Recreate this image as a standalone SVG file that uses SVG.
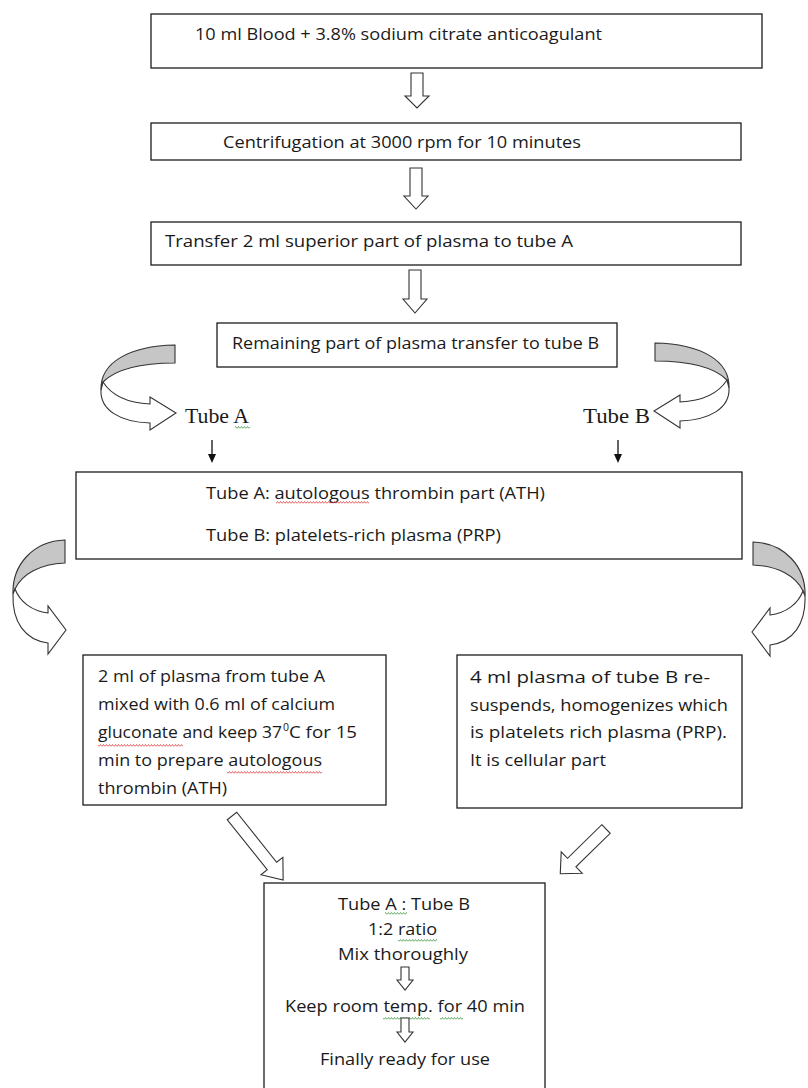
<svg xmlns="http://www.w3.org/2000/svg" width="808" height="1088" viewBox="0 0 808 1088">
<style>
.box{fill:#fff;stroke:#1c1c1c;stroke-width:1.3}
.t{font-family:"Open Sans","Liberation Sans",sans-serif;font-size:16.5px;fill:#1a1a1a}
.s{font-family:"Liberation Serif","Times New Roman",serif;font-size:21.5px;fill:#1a1a1a}
.ha{fill:#fff;stroke:#333;stroke-width:1.1;stroke-linejoin:miter}
.cg{fill:#c6c6c6;stroke:#333;stroke-width:1.1}
.cw{fill:#fff;stroke:#333;stroke-width:1.1}
.ln{stroke:#111;stroke-width:1.3;fill:none}
</style>
<defs>
<pattern id="wr" width="3" height="3" patternUnits="userSpaceOnUse"><path d="M0,2.5 L1.5,0.5 L3,2.5" fill="none" stroke="#e03a3a" stroke-width="0.8"/></pattern>
<pattern id="wg" width="3" height="3" patternUnits="userSpaceOnUse"><path d="M0,2.5 L1.5,0.5 L3,2.5" fill="none" stroke="#3a9a3a" stroke-width="0.8"/></pattern>
<g id="curveL">
<path class="cg" d="M175,345 C130,346 100,362 101,390 L103,382 C115,370 140,363 175,363 Z"/>
<path class="cw" d="M103,382 C112,396 128,403 150,404 L150,397 L176,413 L150,430 L150,423 C120,422 100,410 101,390 Z"/>
</g>
<g id="curveL2">
<path class="cg" d="M65,540 C33,541 12,565 13,594 L15,589 C22,574 40,564 65,563 Z"/>
<path class="cw" d="M15,589 C20,602 32,611 48,613 L48,606 L66,630 L48,654 L48,643 C25,640 12,622 13,594 Z"/>
</g>
</defs>

<g id="connectors">
<path class="ha" d="M411,73 H423 V96 H429 L417,108 L405,96 H411 Z"/>
<path class="ha" d="M410,168 H422 V196 H428 L416,209 L404,196 H410 Z"/>
<path class="ha" d="M409,270 H421 V299 H427 L415,313 L403,299 H409 Z"/>
<use href="#curveL"/>
<use href="#curveL" transform="translate(830,-2) scale(-1,1)"/>
<line class="ln" x1="212" y1="440" x2="212" y2="455"/>
<polygon points="208,454 216,454 212,463" fill="#111"/>
<line class="ln" x1="618" y1="440" x2="618" y2="455"/>
<polygon points="614,454 622,454 618,463" fill="#111"/>
<use href="#curveL2"/>
<use href="#curveL2" transform="translate(818,2) scale(-1,1)"/>
<path class="ha" transform="translate(232,816) rotate(-38.6)" d="M-6,0 H6 V64 H14 L0,82 L-14,64 H-6 Z"/>
<path class="ha" transform="translate(606,829) rotate(45.6)" d="M-6,0 H6 V48 H15 L0,64 L-15,48 H-6 Z"/>
</g>

<g id="n1">
<rect class="box" x="151" y="14" width="611" height="54"/>
<text class="t" x="195" y="40" textLength="407" lengthAdjust="spacingAndGlyphs">10 ml Blood + 3.8% sodium citrate anticoagulant</text>
</g>
<g id="n2">
<rect class="box" x="151" y="123" width="590" height="37"/>
<text class="t" x="223" y="148" textLength="358" lengthAdjust="spacingAndGlyphs">Centrifugation at 3000 rpm for 10 minutes</text>
</g>
<g id="n3">
<rect class="box" x="151" y="222" width="590" height="43"/>
<text class="t" x="165" y="247" textLength="408" lengthAdjust="spacingAndGlyphs">Transfer 2 ml superior part of plasma to tube A</text>
</g>
<g id="n4">
<rect class="box" x="217" y="323" width="400" height="44"/>
<text class="t" x="232" y="349" textLength="367" lengthAdjust="spacingAndGlyphs">Remaining part of plasma transfer to tube B</text>
</g>
<g id="tubeA">
<text class="s" x="185" y="423" textLength="64" lengthAdjust="spacingAndGlyphs">Tube A</text>
<rect x="235" y="426" width="15" height="3" fill="url(#wg)"/>
</g>
<g id="tubeB">
<text class="s" x="583" y="423" textLength="67" lengthAdjust="spacingAndGlyphs">Tube B</text>
</g>
<g id="n5">
<rect class="box" x="76" y="472" width="666" height="87"/>
<text class="t" x="206" y="499" textLength="339" lengthAdjust="spacingAndGlyphs">Tube A: autologous thrombin part (ATH)</text>
<rect x="276" y="501" width="93" height="3" fill="url(#wr)"/>
<text class="t" x="206" y="541" textLength="295" lengthAdjust="spacingAndGlyphs">Tube B: platelets-rich plasma (PRP)</text>
</g>
<g id="n6">
<rect class="box" x="83" y="655" width="303" height="150"/>
<text class="t" x="98" y="682" textLength="227" lengthAdjust="spacingAndGlyphs">2 ml of plasma from tube A</text>
<text class="t" x="98" y="710" textLength="237" lengthAdjust="spacingAndGlyphs">mixed with 0.6 ml of calcium</text>
<text class="t" x="98" y="738" textLength="184" lengthAdjust="spacingAndGlyphs">gluconate and keep 37</text>
<text class="t" x="283" y="731" style="font-size:10.5px">0</text>
<text class="t" x="289" y="738" textLength="68" lengthAdjust="spacingAndGlyphs">C for 15</text>
<rect x="98" y="744" width="85" height="3" fill="url(#wr)"/>
<text class="t" x="98" y="766" textLength="224" lengthAdjust="spacingAndGlyphs">min to prepare autologous</text>
<rect x="227" y="771" width="95" height="3" fill="url(#wr)"/>
<text class="t" x="98" y="794" textLength="129" lengthAdjust="spacingAndGlyphs">thrombin (ATH)</text>
</g>
<g id="n7">
<rect class="box" x="457" y="655" width="285" height="153"/>
<text class="t" x="470" y="683" textLength="240" lengthAdjust="spacingAndGlyphs">4 ml plasma of tube B re-</text>
<text class="t" x="470" y="711" textLength="258" lengthAdjust="spacingAndGlyphs">suspends, homogenizes which</text>
<text class="t" x="470" y="738" textLength="257" lengthAdjust="spacingAndGlyphs">is platelets rich plasma (PRP).</text>
<text class="t" x="470" y="766" textLength="136" lengthAdjust="spacingAndGlyphs">It is cellular part</text>
</g>
<g id="n8">
<rect class="box" x="264" y="883" width="281" height="215"/>
<text class="t" x="338" y="910" textLength="132" lengthAdjust="spacingAndGlyphs">Tube A : Tube B</text>
<rect x="385" y="912" width="22" height="3" fill="url(#wg)"/>
<text class="t" x="368" y="935" textLength="69" lengthAdjust="spacingAndGlyphs">1:2 ratio</text>
<rect x="398" y="939" width="39" height="3" fill="url(#wg)"/>
<text class="t" x="338" y="960" textLength="130" lengthAdjust="spacingAndGlyphs">Mix thoroughly</text>
<path class="ha" d="M401,967 H409 V980 H413 L405,990 L397,980 H401 Z"/>
<text class="t" x="285" y="1012" textLength="240" lengthAdjust="spacingAndGlyphs">Keep room temp. for 40 min</text>
<rect x="383" y="1017" width="47" height="3" fill="url(#wg)"/>
<rect x="440" y="1017" width="23" height="3" fill="url(#wg)"/>
<path class="ha" d="M401,1018 H409 V1032 H413 L405,1042 L397,1032 H401 Z"/>
<text class="t" x="320" y="1065" textLength="170" lengthAdjust="spacingAndGlyphs">Finally ready for use</text>
</g>
</svg>
